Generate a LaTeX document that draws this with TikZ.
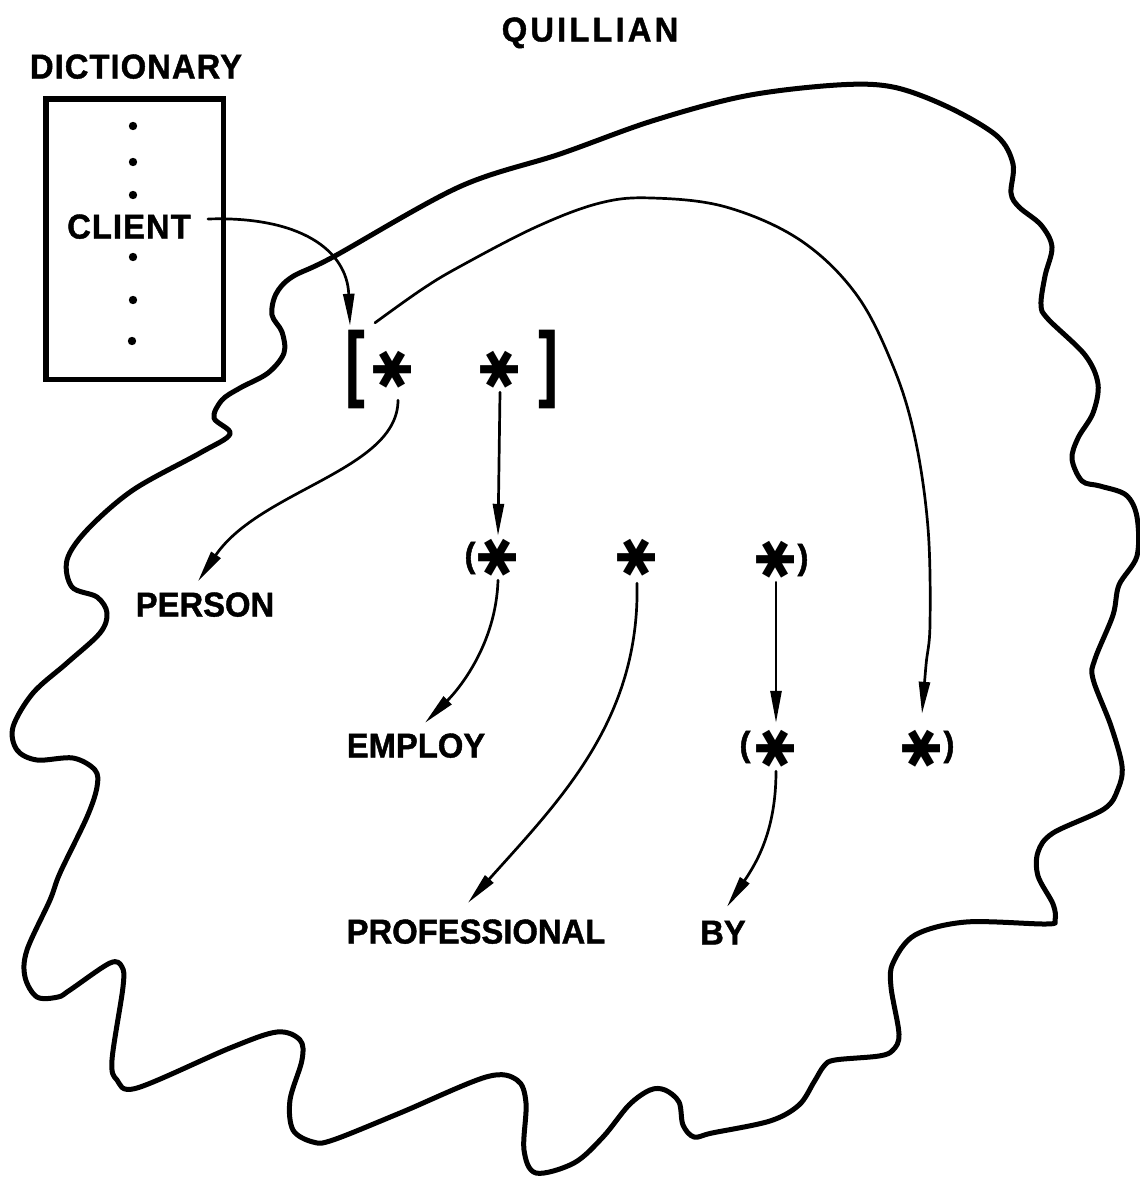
\documentclass[tikz,border=0pt]{standalone}
\usepackage{fontspec}
\setmainfont{Liberation Sans}[FakeStretch=0.95, BoldFeatures={FakeBold=1.2}]
\newfontfamily\symfnt{DejaVu Sans}
\usetikzlibrary{arrows.meta}
\begin{document}
\begin{tikzpicture}[x=1pt,y=-1pt,
  lbl/.style={font=\fontsize{34.5}{36}\selectfont\bfseries, inner sep=0pt, anchor=center, text height=25pt, text depth=0pt},
  ast/.style={font=\symfnt\fontsize{52}{52}\selectfont, inner sep=0pt, minimum width=36pt, minimum height=44pt},
  brk/.style={font=\fontsize{60}{60}\selectfont\bfseries, inner sep=0pt, minimum height=80pt},
  par/.style={font=\fontsize{34.5}{36}\selectfont\bfseries, inner sep=0pt},
  conn/.style={line width=2.7pt, line cap=round, -{Triangle[length=32pt,width=11pt]}},
  blob/.style={line width=5pt, line join=round},
  dot/.style={fill=black}
]
\useasboundingbox (0,0) rectangle (1140,1178);

% outline of the memory
\draw[blob] plot[smooth cycle, tension=0.55] coordinates {
(333,257) (459,187) (560,154) (652,121) (745,96) (837,85) (893,87) (948,107) (997,136) (1013,164) (1011,193) (1019,207) (1041,225) (1052,247) (1045,276) (1041,305) (1048,319) (1085,355) (1098,384) (1093,413) (1078,438) (1072,459) (1082,481) (1100,486) (1126,495) (1137,517) (1137,556) (1119,585) (1113,615) (1095,659) (1093,679) (1111,726) (1122,766) (1118,789) (1104,809) (1053,833) (1038,852) (1038,876) (1053,904) (1055,920) (1046,924) (966,922) (915,935) (893,963) (891,987) (899,1034) (893,1050) (879,1056) (835,1060) (824,1066) (814,1082) (799,1105) (770,1121) (712,1133) (694,1137) (683,1125) (679,1102) (665,1090) (650,1090) (629,1105) (603,1137) (574,1163) (536,1173) (524,1150) (526,1103) (517,1080) (486,1077) (400,1113) (333,1140) (313,1142) (293,1130) (290,1100) (302,1060) (300,1040) (277,1032) (230,1048) (137,1088) (117,1080) (112,1060) (123,987) (122,967) (110,963) (70,990) (58,997) (37,997) (25,977) (27,950) (50,900) (60,873) (87,817) (97,787) (95,770) (73,758) (37,760) (17,750) (13,727) (33,693) (67,663) (100,633) (107,613) (97,597) (72,587) (67,560) (87,530) (133,490) (200,453) (230,434) (214,418) (222,400) (240,388) (268,373) (284,353) (282,332) (272,315) (276,294) (292,277)};

% titles
\node[lbl] (quillian) at (590,29) {\addfontfeatures{LetterSpace=9}QUILLIAN};
\node[lbl] (dictionary) at (136,66) {\addfontfeatures{LetterSpace=3}DICTIONARY};

% dictionary
\node[draw, line width=5.5pt, minimum width=177.5pt, minimum height=280.5pt, inner sep=0pt] (dictbox) at (134.5,239) {};
\node[lbl] (client) at (129,226) {\addfontfeatures{LetterSpace=3}CLIENT};
\fill[dot] (133,126) circle[radius=4.2pt];
\fill[dot] (133,162) circle[radius=4.2pt];
\fill[dot] (133,195) circle[radius=4.2pt];
\fill[dot] (133,257) circle[radius=4.2pt];
\fill[dot] (133,300) circle[radius=4.2pt];
\fill[dot] (132,341) circle[radius=4.2pt];

% top list
\node[brk] (lb) at (355,369) {\scalebox{1.0}[1.39]{[}};
\node[brk] (rb) at (548,369) {\scalebox{1.0}[1.39]{]}};
\node[ast] (s1) at (393,370) {\rotatebox{90}{✱}};
\node[ast] (s2) at (500,370) {\rotatebox{90}{✱}};

% second list
\node[par] (p1) at (470,558) {(};
\node[ast] (s3) at (498,558) {\rotatebox{90}{✱}};
\node[ast] (s4) at (637,558) {\rotatebox{90}{✱}};
\node[ast] (s5) at (776,560) {\rotatebox{90}{✱}};
\node[par] (p2) at (803,560) {)};

% third list
\node[par] (p3) at (745,747) {(};
\node[ast] (s6) at (776,749) {\rotatebox{90}{✱}};
\node[ast] (s7) at (922,749) {\rotatebox{90}{✱}};
\node[par] (p4) at (949,747) {)};

% words
\node[lbl] (person) at (205,604) {PERSON};
\node[lbl] (employ) at (416,745) {EMPLOY};
\node[lbl] (professional) at (476,931) {PROFESSIONAL};
\node[lbl] (by) at (723,932) {BY};

% connectors
\draw[conn] ([xshift=17pt,yshift=7pt]client.east) .. controls (300,216) and (347,250) .. ([xshift=-5pt,yshift=3pt]lb.north);
\coordinate (arcS) at ([xshift=20pt,yshift=6pt]lb.north);
\coordinate (arcE) at ([yshift=13pt]s7.north);
\draw[conn] plot[smooth, tension=0.6] coordinates {(arcS) (421,290) (459,267) (536,227) (600,203) (652,198) (726,207) (800,240) (856,294) (893,366) (915,438) (928,528) (930,624) (926,665) (arcE)};
\draw[conn] ([xshift=5pt,yshift=-8pt]s1.south) .. controls (398,470) and (260,490) .. ([xshift=-7pt,yshift=10pt]person.north);
\draw[conn] (s2.south) -- (s3.north);
\draw[conn] (s3.south) .. controls (496,645) and (458,690) .. ([xshift=9pt,yshift=9.5pt]employ.north);
\draw[conn] ([yshift=-3pt]s4.south) .. controls (640,720) and (560,800) .. ([xshift=-8pt,yshift=15.5pt]professional.north);
\draw[conn] (s5.south) -- ([yshift=4pt]s6.north);
\draw[conn] (s6.south) .. controls (776,830) and (757,862) .. ([xshift=4pt,yshift=12.5pt]by.north);
\end{tikzpicture}
\end{document}
